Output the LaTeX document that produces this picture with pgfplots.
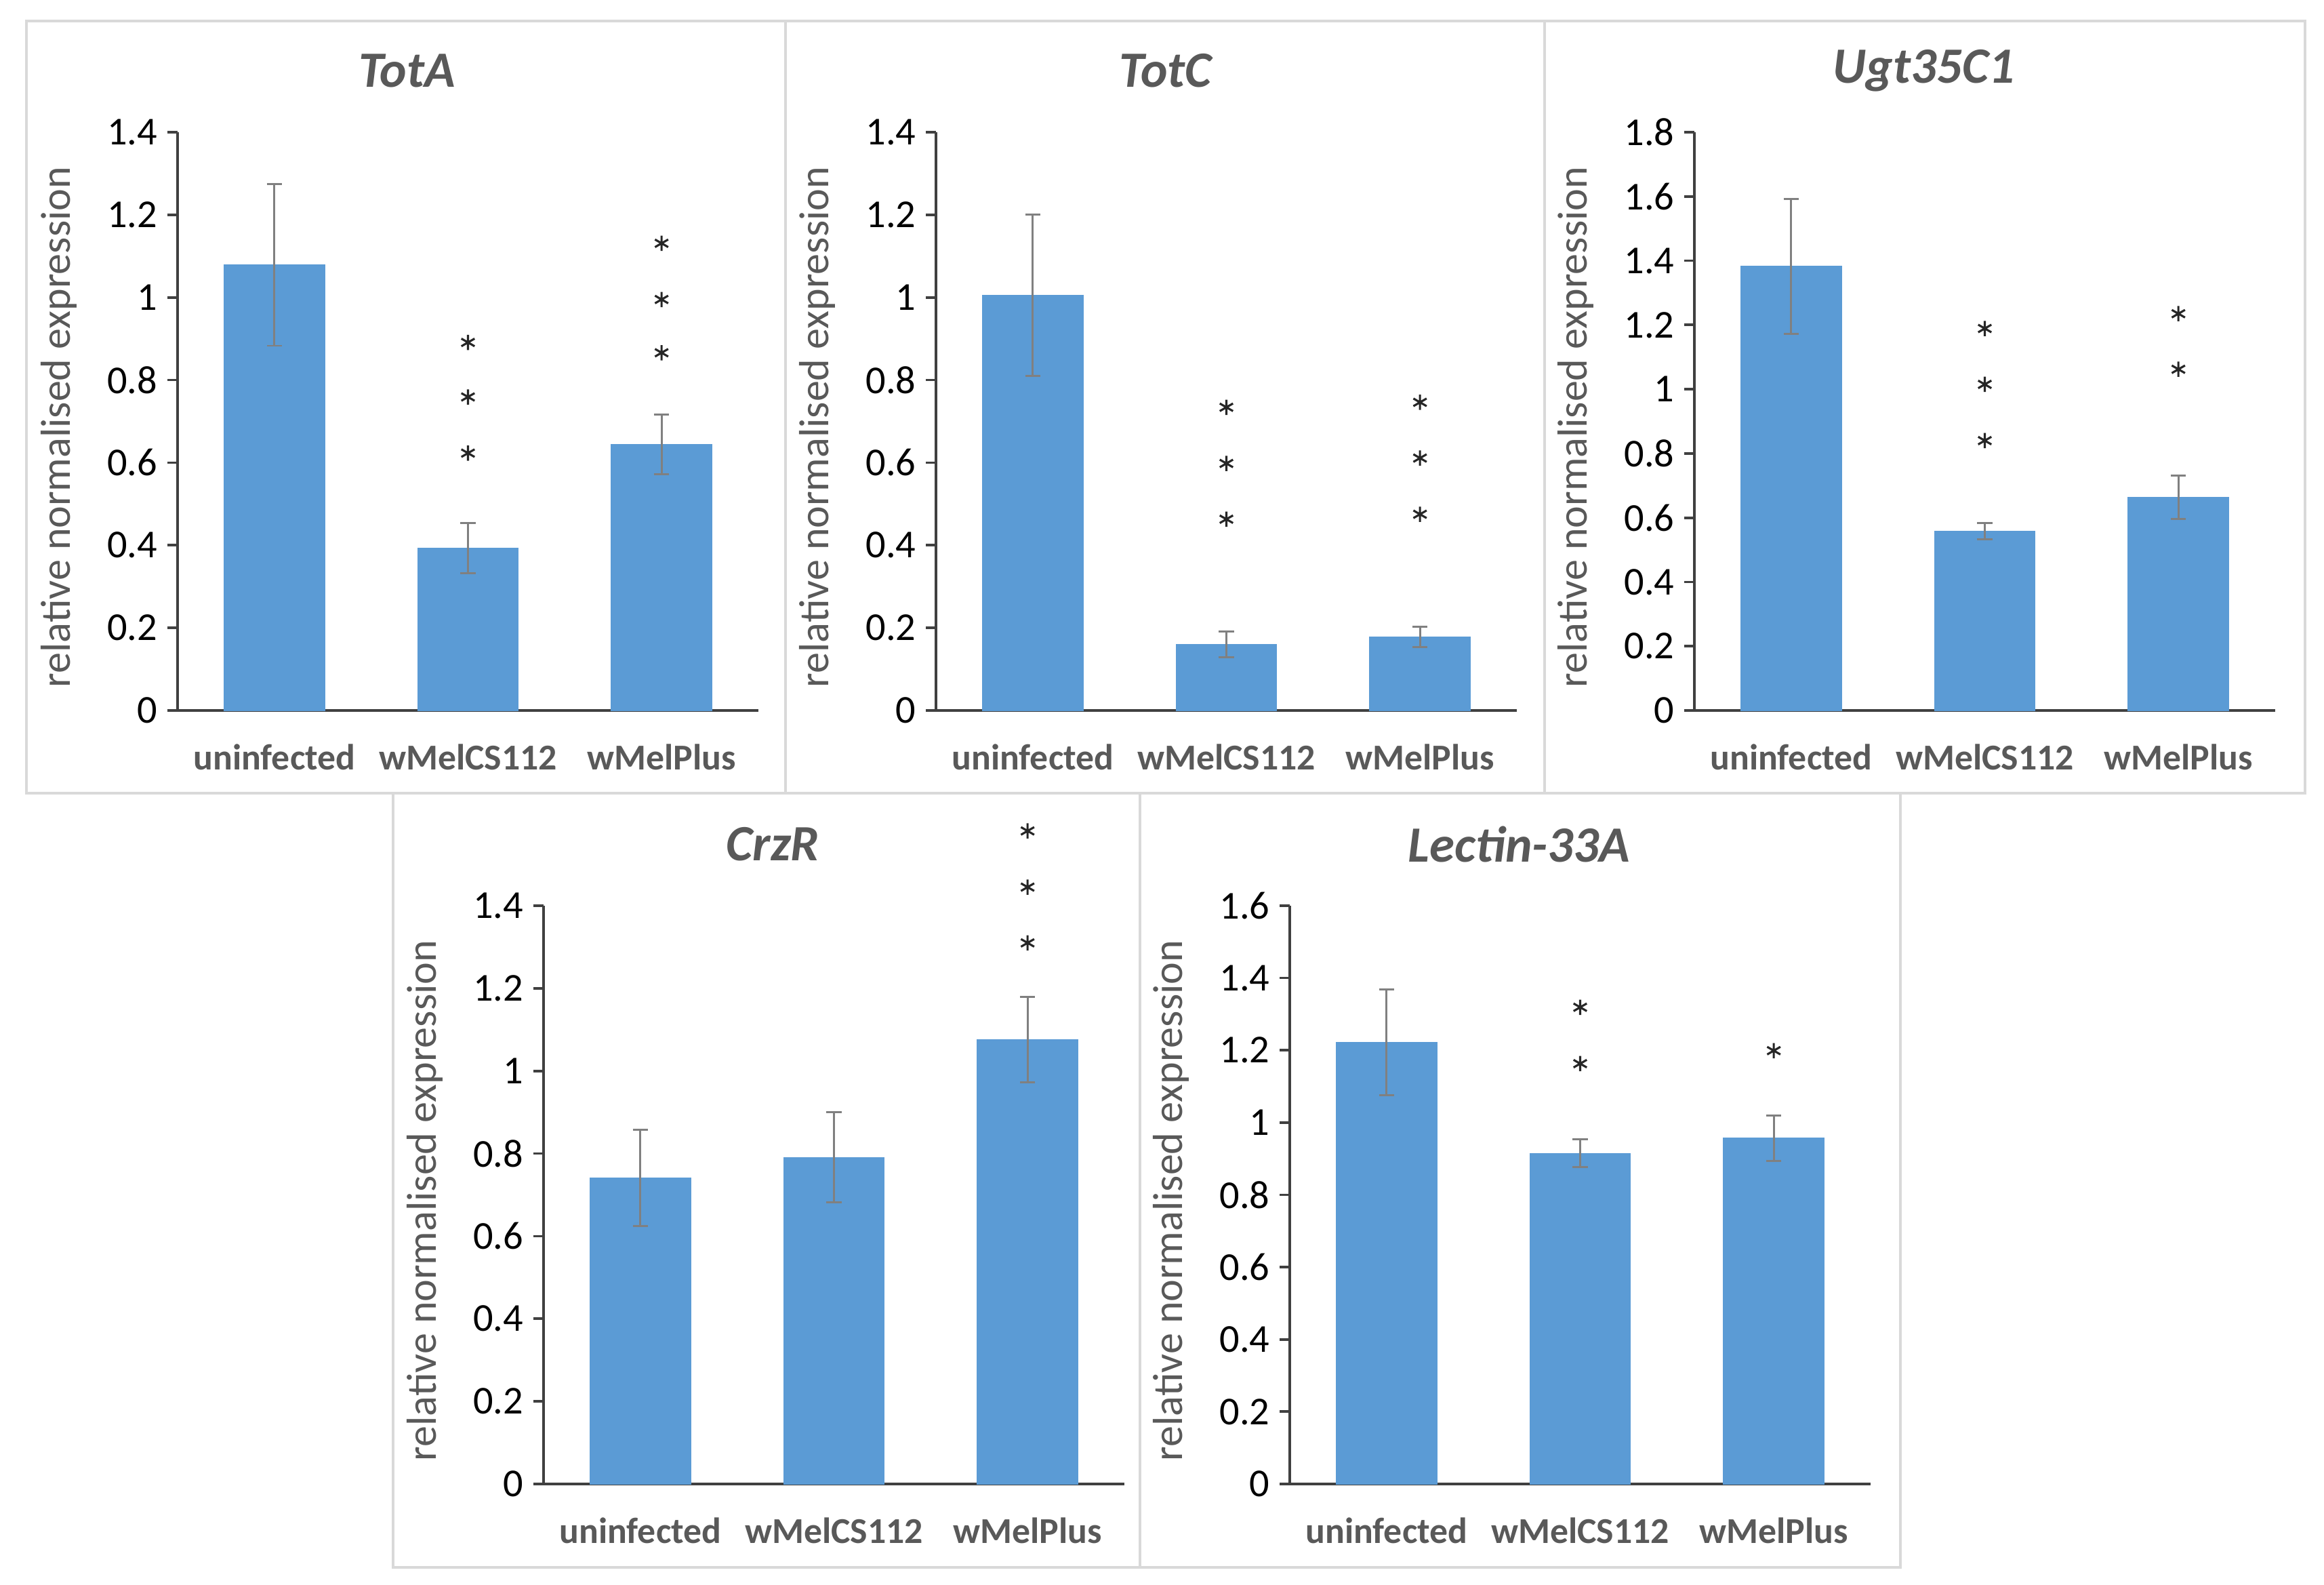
\documentclass[border=0pt]{standalone}
\usepackage{fontspec}
\setmainfont{Carlito}
\usepackage{pgfplots}
\pgfplotsset{compat=1.18}

\definecolor{barblue}{HTML}{5B9BD5}
\definecolor{txtgray}{HTML}{595959}
\definecolor{axgray}{HTML}{404040}
\definecolor{errgray}{HTML}{808080}
\definecolor{boxgray}{HTML}{D9D9D9}

% 1 px of the reference = 0.24pt
\pgfplotsset{
  panel/.style={
    scale only axis, width=205.68pt, height=204.72pt, anchor=south west,
    clip=false,
    ymin=0, axis lines*=left,
    axis line style={axgray, line width=0.9pt},
    xmin=-0.5, xmax=2.5,
    xtick={0,1,2}, xticklabels={uninfected,wMelCS112,wMelPlus},
    xtick style={draw=none},
    tick align=outside, major tick length=3.6pt,
    ytick style={axgray, line width=0.9pt},
    ytick distance=0.2,
    /pgf/number format/assume math mode=true,
    yticklabel style={/pgf/number format/fixed, /pgf/number format/precision=1,
      font=\fontsize{14}{16}\selectfont, text=black},
    xticklabel style={font=\fontsize{12.9}{15}\selectfont\bfseries, text=txtgray,
      anchor=center, yshift=-13pt},
    ylabel={relative normalised expression},
    ylabel style={font=\fontsize{14.9}{17}\selectfont, text=txtgray,
      at={(axis description cs:-0.204,0.49)}, anchor=center},
    title style={font=\fontsize{18}{21}\selectfont\bfseries\itshape, text=txtgray,
      at={(axis description cs:0.395,1.077)}, anchor=center},
  },
  bars/.style={ybar, bar width=0.52, fill=barblue, draw=barblue, line width=0.2pt,
    error bars/.cd, y dir=both, y explicit, error mark=|,
    error bar style={color=errgray, line width=0.7pt},
    error mark options={color=errgray, line width=0.7pt, mark size=2.7pt}},
  stars/.style={only marks, mark=asterisk, mark size=2.7pt,
    mark options={draw=black!85, line width=0.75pt}},
}

\begin{document}
\begin{tikzpicture}
\path[use as bounding box] (0,0) rectangle (822.96pt,-561.12pt);

% panel frames
\draw[boxgray, line width=0.75pt] (9.36pt,-7.44pt) rectangle (278.16pt,-280.8pt);
\draw[boxgray, line width=0.75pt] (278.16pt,-7.44pt) rectangle (546.96pt,-280.8pt);
\draw[boxgray, line width=0.75pt] (546.96pt,-7.44pt) rectangle (816.24pt,-280.8pt);
\draw[boxgray, line width=0.75pt] (139.2pt,-280.8pt) rectangle (403.68pt,-554.88pt);
\draw[boxgray, line width=0.75pt] (403.68pt,-280.8pt) rectangle (672.96pt,-554.88pt);

% TotA
\begin{axis}[panel, at={(62.88pt,-251.52pt)}, ymax=1.4, title={TotA}]
\addplot[bars] coordinates {(0,1.079) +- (0,0.196) (1,0.393) +- (0,0.061) (2,0.644) +- (0,0.072)};
\addplot[stars] coordinates {(1,0.891) (1,0.759) (1,0.623) (2,1.131) (2,0.995) (2,0.866)};
\end{axis}

% TotC
\begin{axis}[panel, at={(331.44pt,-251.52pt)}, ymax=1.4, title={TotC}]
\addplot[bars] coordinates {(0,1.005) +- (0,0.195) (1,0.160) +- (0,0.031) (2,0.178) +- (0,0.024)};
\addplot[stars] coordinates {(1,0.734) (1,0.598) (1,0.463) (2,0.746) (2,0.611) (2,0.475)};
\end{axis}

% Ugt35C1
\begin{axis}[panel, at={(600pt,-251.52pt)}, ymax=1.8, title={Ugt35C1}]
\addplot[bars] coordinates {(0,1.383) +- (0,0.210) (1,0.558) +- (0,0.025) (2,0.664) +- (0,0.068)};
\addplot[stars] coordinates {(1,1.189) (1,1.015) (1,0.840) (2,1.235) (2,1.062)};
\end{axis}

% CrzR
\begin{axis}[panel, at={(192.48pt,-525.36pt)}, ymax=1.4, title={CrzR}]
\addplot[bars] coordinates {(0,0.741) +- (0,0.117) (1,0.791) +- (0,0.109) (2,1.076) +- (0,0.104)};
\addplot[stars] coordinates {(2,1.581) (2,1.445) (2,1.310)};
\end{axis}

% Lectin-33A
\begin{axis}[panel, at={(456.72pt,-525.36pt)}, ymax=1.6, title={Lectin-33A}]
\addplot[bars] coordinates {(0,1.222) +- (0,0.147) (1,0.915) +- (0,0.038) (2,0.957) +- (0,0.063)};
\addplot[stars] coordinates {(1,1.319) (1,1.163) (2,1.199)};
\end{axis}
\end{tikzpicture}
\end{document}
